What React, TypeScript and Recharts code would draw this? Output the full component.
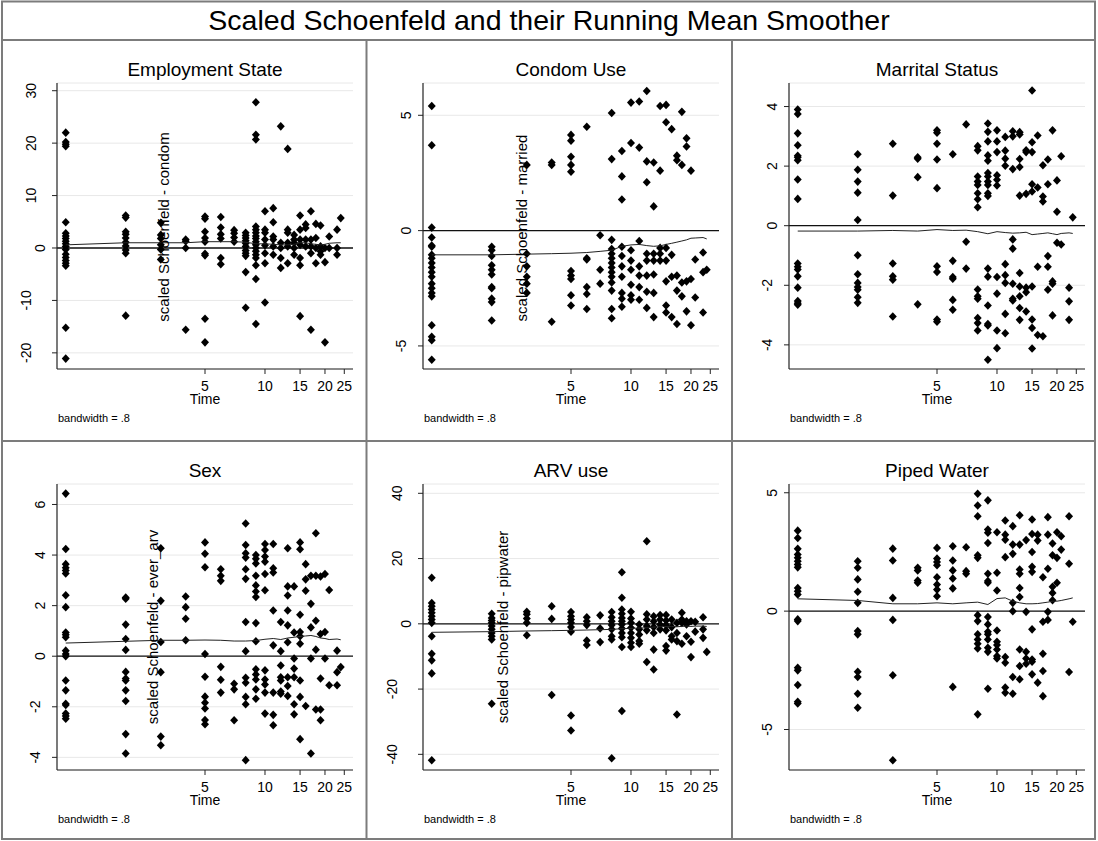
import React from 'react';
import { ScatterChart, Scatter, XAxis, YAxis, CartesianGrid, ReferenceLine } from 'recharts';

const FONT = '"Liberation Sans", Arial, Helvetica, sans-serif';

// event times (log-scaled x axis)
const times = [1, 2, 3, 4, 5, 6, 7, 8, 9, 10, 11, 12, 13, 14, 15, 16, 17, 18, 19, 20, 21, 23, 24];
const timeTicks = [5, 10, 15, 20, 25];
const timeDomain = [0.904, 27.65];

// ---- Employment State ----
const employmentVals = [
  [22, 20.2, 19.8, 19.4, 4.9, 2.8, 2.3, 1.8, 1.3, 0.8, 0.3, -0.3, -1.2, -1.8, -2.4, -2.9, -3.4, -15.2, -21.1],
  [6.2, 5.8, 3.1, 2.6, 1.9, 1.1, 0.4, -0.4, -1.0, -12.9],
  [4.8, 2.5, 1.8, 0.6, -0.3, -2.2],
  [1.6, 1.3, 0, -15.6],
  [6.0, 5.6, 3.1, 1.9, 1.2, -1.1, -1.4, -13.5, -18],
  [5.9, 3.9, 2.6, 1.8, -1.9, -3.1],
  [3.4, 2.8, 2.0, 1.2],
  [2.9, 2.4, 1.9, 1.4, 0.9, 0.3, -0.5, -1.0, -1.5, -4.6, -11.4],
  [27.8, 21.6, 20.7, 4.1, 3.5, 2.9, 2.3, 1.8, 1.2, 0.6, 0, -0.6, -1.3, -1.9, -3.3, -5.9, -14.5],
  [7.0, 3.5, 2.9, 1.6, 0.5, -1.0, -2.9, -10.4],
  [7.6, 4.9, 2.2, 1.6, 0.3, -1.3],
  [23.2, 1.0, 0, -1.9, -3.8],
  [18.9, 3.5, 2.9, 1.0, 0.3, -2.9],
  [2.5, 1.6, 1.0, 0, -1.3],
  [6.2, 3.5, 1.6, 0.6, -1.9, -3.3, -13.0],
  [4.5, 3.8, 1.6, 0.3],
  [7.0, 1.6, 0.3, -1.0, -15.6],
  [4.6, 1.9, 0, -2.9],
  [4.3, 0.3, -0.6, -1.3],
  [0, -2.7, -18],
  [2.2, 0],
  [3.5, 0, -1.3],
  [5.7],
];
const employmentSmooth = [0.6, 1.0, 1.0, 1.0, 1.2, 1.2, 1.2, 1.1, 0.8, 0.8, 0.7, 0.6, 0.6, 0.7, 1.0, 1.0, 0.8, 0.7, 0.6, 0.7, 0.9, 1.0, 1.0];

// ---- Condom Use ----
const condomVals = [
  [5.4, 3.7, 0.13, -0.3, -0.65, -0.7, -1.05, -1.2, -1.4, -1.6, -1.8, -2.0, -2.3, -2.5, -2.7, -2.85, -4.1, -4.6, -4.75, -5.6],
  [-0.7, -0.85, -1.1, -1.5, -1.7, -1.9, -2.45, -2.5, -2.95, -3.1, -3.9],
  [2.85, -1.0, -1.55, -2.0, -2.3, -2.7],
  [2.95, 2.85, -3.95],
  [4.15, 3.9, 3.2, 2.85, 2.55, -1.75, -1.95, -2.1, -2.8, -3.25],
  [4.5, -1.2, -1.25, -2.45, -2.75, -3.4],
  [-0.2, -1.7, -2.3],
  [5.1, 3.1, -0.4, -0.8, -1.0, -1.2, -1.4, -1.6, -1.8, -2.0, -2.25, -2.6, -3.4, -3.8],
  [3.45, 2.35, 1.35, -0.7, -1.1, -1.55, -2.0, -2.7, -2.95, -3.3],
  [5.55, 3.8, -0.85, -1.3, -1.7, -2.35, -2.8, -3.0],
  [5.6, 3.6, -0.45, -1.55, -1.95, -2.45, -3.0],
  [6.05, 3.0, 2.1, -1.0, -1.3, -1.95, -2.65, -3.35],
  [2.95, 1.05, -1.0, -1.3, -1.9, -2.7, -3.75],
  [5.4, 2.6, -0.75, -1.0, -1.3],
  [5.45, 4.7, -0.75, -1.3, -2.2, -3.25, -3.55],
  [4.4, -1.05, -2.0, -3.75],
  [3.25, 3.05, -1.95, -2.6, -4.05],
  [5.15, 2.85, -2.25, -2.85],
  [4.0, 3.65, -2.2, -3.5],
  [2.6, -2.1, -4.1],
  [-1.25, -2.9],
  [-0.95, -1.8, -3.55],
  [-1.7],
];
const condomSmooth = [-1.05, -1.05, -1.02, -1.0, -0.98, -0.95, -0.9, -0.85, -0.68, -0.62, -0.6, -0.65, -0.68, -0.66, -0.6, -0.55, -0.5, -0.45, -0.4, -0.33, -0.32, -0.3, -0.36];

// ---- Marrital Status ----
const maritalVals = [
  [3.9, 3.75, 3.1, 2.7, 2.35, 2.3, 2.2, 1.55, 0.9, -1.27, -1.38, -1.47, -1.7, -2.08, -2.53, -2.6, -2.65],
  [2.4, 1.88, 1.48, 1.11, 0.19, -0.99, -1.63, -1.92, -2.06, -2.15, -2.4, -2.59],
  [2.75, 1.01, -1.27, -1.7, -1.81, -3.05],
  [2.3, 2.25, 1.63, -2.64],
  [3.2, 3.12, 2.75, 2.22, 1.26, -1.36, -1.55, -3.15, -3.22],
  [2.4, -1.18, -1.72, -1.78, -2.49, -2.82],
  [3.4, -0.54, -1.44],
  [2.67, 2.53, 1.65, 1.48, 1.37, 1.09, 0.89, 0.62, -2.14, -2.37, -2.45, -3.1, -3.27, -3.52],
  [3.43, 3.15, 2.83, 2.36, 2.18, 1.77, 1.65, 1.48, 1.37, 1.09, 1.0, -1.44, -1.71, -2.68, -3.3, -3.35, -4.5],
  [3.2, 2.83, 2.47, 1.69, 1.54, 1.35, -1.72, -2.28, -3.52, -4.11],
  [2.98, 2.52, 2.25, 2.01, -1.29, -1.66, -1.92, -2.96, -3.61],
  [3.17, 3.0, 1.9, -0.46, -0.77, -1.95, -2.45, -2.51],
  [3.14, 3.06, 2.24, 1.97, 1.01, -1.59, -2.04, -2.37, -2.76, -3.16],
  [2.53, 2.47, 1.07, -2.08, -2.23, -2.88],
  [4.54, 2.8, 2.47, 1.39, 1.15, -2.04, -3.15, -3.43, -4.12],
  [3.03, 1.28, -1.38, -3.67],
  [2.03, 0.98, 0.81, -3.71],
  [2.22, 1.39, -1.02, -1.38, -2.15],
  [3.2, -1.87, -1.95, -3.01],
  [1.52, 0.47, -0.57],
  [2.33, -0.63],
  [-2.08, -2.54, -3.16],
  [0.28],
];
const maritalSmooth = [-0.18, -0.18, -0.16, -0.18, -0.13, -0.16, -0.15, -0.2, -0.27, -0.2, -0.23, -0.25, -0.24, -0.22, -0.3, -0.28, -0.26, -0.24, -0.27, -0.3, -0.26, -0.24, -0.26];

// ---- Sex ----
const sexVals = [
  [6.43, 4.24, 3.64, 3.5, 3.39, 3.27, 2.41, 1.94, 0.94, 0.85, 0.75, 0.22, 0.09, 0.0, -0.96, -1.35, -1.88, -1.93, -2.27, -2.36, -2.47],
  [2.32, 2.27, 1.25, 0.68, 0.25, -0.62, -0.88, -0.96, -1.35, -1.77, -3.08, -3.85],
  [4.27, 2.19, 0.56, -0.63, -3.18, -3.52],
  [2.36, 1.94, 1.48, 0.63],
  [4.5, 4.05, 3.52, 0.09, -0.81, -1.6, -1.84, -2.07, -2.52, -2.69],
  [3.44, 3.18, 2.98, -0.42, -0.93, -1.44],
  [-1.09, -1.31, -2.53],
  [5.25, 4.4, 4.07, 3.9, 3.44, 3.06, 1.35, 0.2, -0.85, -1.05, -1.61, -1.9, -4.11],
  [4.0, 3.85, 3.67, 3.18, 2.8, 2.56, 2.34, 1.31, 0.59, -0.52, -0.72, -0.92, -1.31, -1.68],
  [4.44, 4.2, 3.94, 3.74, 3.25, 2.61, -0.56, -0.92, -1.12, -1.44, -2.27],
  [4.44, 3.48, 3.31, 1.81, 0.43, -1.44, -2.32, -2.73],
  [1.35, 0.2, -0.37, -0.83, -0.96, -1.4, -1.48],
  [4.27, 2.76, 2.4, 1.81, 1.22, 0.55, -0.83, -1.18, -1.57],
  [2.76, 0.94, -0.09, -0.49, -0.83, -1.9, -2.3],
  [4.5, 4.23, 1.64, 0.96, 0.79, 0.49, -0.96, -1.61, -3.28],
  [3.64, 3.04, 2.59, -1.97],
  [3.18, 2.07, 1.14, -0.09, -3.85],
  [4.86, 3.18, 1.4, 0.26, -2.11],
  [3.15, 0.88, -0.88, -2.11, -2.53],
  [3.25, 0.96, -0.09],
  [2.62, -1.15],
  [0.22, -0.63, -1.15],
  [-0.43],
];
const sexSmooth = [0.52, 0.59, 0.63, 0.63, 0.64, 0.63, 0.6, 0.6, 0.62, 0.67, 0.7, 0.66, 0.72, 0.75, 0.78, 0.8, 0.82, 0.78, 0.72, 0.7, 0.66, 0.68, 0.65];

// ---- ARV use ----
const arvVals = [
  [14.1, 6.4, 5.4, 4.4, 3.4, 2.3, 1.3, 0.3, -3.8, -9.2, -11.2, -15.2, -41.8],
  [3.1, 1.8, 1.0, 0.3, -0.7, -1.7, -2.8, -3.8, -4.8, -24.5],
  [3.7, 2.9, 1.6, 0.3, -3.5],
  [5.4, 1.5, -21.8],
  [3.6, 2.3, 1.3, 0.3, -1.0, -2.4, -28.1, -32.7],
  [2.0, 0.8, -0.4, -5.1, -6.5],
  [2.6, -1.4, -5.6],
  [3.6, 2.0, 0.8, -0.4, -1.7, -3.8, -4.8, -41.2],
  [15.8, 8.0, 4.4, 3.1, 1.8, 0.8, -0.2, -1.4, -2.8, -4.1, -7.1, -26.7],
  [3.7, 1.6, 0.3, -1.2, -2.8, -4.3, -5.8, -7.1],
  [-0.2, -1.7, -3.3, -5.3, -6.1],
  [25.3, 2.9, 1.3, -0.7, -2.0, -11.7],
  [2.3, 0.8, -1.0, -2.8, -7.9, -14.0],
  [2.7, 1.3, -0.2, -1.7],
  [2.7, 1.0, -0.4, -2.0, -6.8, -8.2],
  [1.3, -1.0, -3.8, -4.8],
  [0.3, -2.8, -5.3, -27.8],
  [3.4, 1.3, 0.3, -6.1],
  [0.8, -0.2, -3.8],
  [0.8, -5.5, -10.2],
  [0.6, -2.4],
  [2.0, -1.7, -4.3],
  [-8.6],
];
const arvSmooth = [-2.6, -2.4, -2.2, -2.1, -2.0, -1.9, -1.8, -1.7, -1.5, -1.4, -1.3, -1.2, -1.0, -0.9, -0.8, -0.8, -0.9, -0.8, -0.7, -0.8, -0.7, -0.7, -0.8];

// ---- Piped Water ----
const waterVals = [
  [3.4, 3.09, 2.63, 2.39, 2.25, 2.11, 1.97, 1.85, 0.98, 0.84, 0.7, -0.35, -0.42, -2.39, -2.5, -3.12, -3.83, -3.9],
  [2.11, 1.83, 1.34, 0.82, 0.35, -0.84, -0.98, -2.56, -2.78, -3.49, -4.08],
  [2.64, 2.14, 0.56, -0.37, -2.71, -6.3],
  [1.83, 1.72, 1.29, 1.2],
  [2.67, 2.22, 2.08, 1.94, 1.43, 1.12, 0.91, 0.63],
  [2.74, 2.14, 1.72, 1.38, 0.96, -3.2],
  [2.7, 1.69, 1.58],
  [4.96, 4.46, 4.01, 2.36, 2.25, -0.17, -0.42, -0.98, -1.2, -1.38, -1.58, -4.36],
  [4.68, 3.45, 3.31, 2.88, 1.58, 1.27, 1.2, -0.25, -0.56, -0.87, -0.98, -1.2, -1.55, -1.72, -3.28],
  [3.33, 1.62, 0.87, -0.82, -1.29, -1.43, -1.62, -1.9, -2.0],
  [3.83, 3.23, 3.02, 2.28, -1.94, -2.18, -3.23, -3.45],
  [3.59, 2.81, 2.42, 0.35, 0.0, -2.78, -3.49],
  [4.05, 2.81, 1.76, 1.58, 0.98, 0.6, -1.62, -2.32, -2.88],
  [3.0, -0.03, -1.72, -2.0, -2.22],
  [3.87, 3.26, 2.5, 1.87, 1.66, -0.77, -2.04, -2.14, -2.67],
  [3.23, 2.98, -3.02],
  [1.43, -0.45, -1.8, -2.53, -3.59],
  [3.97, 3.23, 1.79, -0.03, -0.37],
  [2.86, 2.36, 1.03, 0.77, 0.46],
  [3.33, 2.25, 1.2],
  [3.16, 2.6],
  [4.01, 2.0, -2.57],
  [-0.45],
];
const waterSmooth = [0.52, 0.45, 0.31, 0.31, 0.35, 0.31, 0.35, 0.38, 0.28, 0.53, 0.56, 0.42, 0.35, 0.31, 0.31, 0.32, 0.35, 0.38, 0.42, 0.42, 0.45, 0.52, 0.56];

// tick labels for each panel's y axis
const employmentTicks = [-20, -10, 0, 10, 20, 30];
const condomTicks = [-5, 0, 5];
const maritalTicks = [-4, -2, 0, 2, 4];
const sexTicks = [-4, -2, 0, 2, 4, 6];
const arvTicks = [-40, -20, 0, 20, 40];
const waterTicks = [-5, 0, 5];

const toPoints = (vals: number[][]) =>
  vals.flatMap((col, i) => col.map((v) => ({ t: times[i], v })));
const toLine = (vals: number[]) => vals.map((v, i) => ({ t: times[i], v }));

// ---- layout ----
const W = 366;
const H = 400;
const PL = 55;
const PR = 15;
const PT = 44;
const PB = 330;
const PCX = PL + (W - PL - PR) / 2;

const Diamond = (p: any) => {
  const { cx, cy } = p;
  if (cx == null || cy == null) return <g />;
  return (
    <path
      d={`M${cx} ${cy - 4.3}L${cx + 4} ${cy}L${cx} ${cy + 4.3}L${cx - 4} ${cy}Z`}
      fill="#000"
    />
  );
};
const NoShape = () => <g />;

const YTick = (p: any) => {
  const s = String(p.payload.value);
  const fs = 14;
  const w = [...s].reduce((a, c) => a + (c === '-' ? 0.333 : 0.556) * fs, 0);
  const cx = PL - 9 - w * 1.07;
  const bx = cx + 5;
  return (
    <text
      x={bx}
      y={p.y}
      transform={`rotate(-90 ${bx} ${p.y})`}
      textAnchor="middle"
      fontSize={fs}
      fontFamily={FONT}
      fill="#000"
    >
      {s}
    </text>
  );
};

const XTick = (p: any) => (
  <text x={p.x} y={PB + 22} textAnchor="middle" fontSize={14} fontFamily={FONT} fill="#000">
    {p.payload.value}
  </text>
);

type PanelProps = {
  title: string;
  vals: number[][];
  smooth: number[];
  domain: number[];
  ticks: number[];
  left: number;
  top: number;
};

const Panel = ({ title, vals, smooth, domain, ticks, left, top }: PanelProps) => (
  <div style={{ position: 'absolute', left, top, width: W, height: H }}>
    <ScatterChart width={W} height={H} margin={{ top: PT, right: PR, bottom: 40, left: 0 }}>
      <CartesianGrid vertical={false} stroke="#e8e8e8" strokeWidth={1} />
      <XAxis
        dataKey="t"
        type="number"
        scale="log"
        domain={timeDomain}
        allowDataOverflow
        ticks={timeTicks}
        interval={0}
        height={30}
        tickSize={5}
        tick={XTick}
        axisLine={{ stroke: '#222', strokeWidth: 1.2 }}
        tickLine={{ stroke: '#222' }}
      />
      <YAxis
        dataKey="v"
        type="number"
        domain={domain}
        allowDataOverflow
        ticks={ticks}
        interval={0}
        width={PL}
        tickSize={5}
        tick={YTick}
        axisLine={{ stroke: '#222', strokeWidth: 1.2 }}
        tickLine={{ stroke: '#222' }}
      />
      <ReferenceLine y={0} stroke="#111" strokeWidth={1.3} />
      <Scatter data={toPoints(vals)} shape={Diamond} isAnimationActive={false} />
      <Scatter
        data={toLine(smooth)}
        line={{ stroke: '#222', strokeWidth: 1 }}
        lineType="joint"
        shape={NoShape}
        isAnimationActive={false}
      />
    </ScatterChart>
    <svg
      width={W}
      height={H}
      style={{ position: 'absolute', left: 0, top: 0, pointerEvents: 'none' }}
    >
      <text x={PCX} y={37} textAnchor="middle" fontSize={19} fontFamily={FONT} fill="#000">
        {title}
      </text>
      <text x={PCX} y={365} textAnchor="middle" fontSize={14} fontFamily={FONT} fill="#000">
        Time
      </text>
      <text x={56} y={383} fontSize={11} fontFamily={FONT} fill="#000">
        bandwidth = .8
      </text>
    </svg>
  </div>
);

const colLeft = [2, 367.7, 733.7];
const rowTop = [39, 439.5];

const yLabels = [
  { text: 'scaled Schoenfeld - condom', x: 168.5, y: 227 },
  { text: 'scaled Schoenfeld - married', x: 527, y: 228 },
  { text: 'scaled Schoenfeld - ever_arv', x: 157.5, y: 627 },
  { text: 'scaled Schoenfeld - pipwater', x: 508, y: 627 },
];

export default function App() {
  const border = '#7c7c7c';
  return (
    <div
      style={{
        position: 'absolute',
        left: 0,
        top: 0,
        width: 1098,
        height: 841,
        background: '#fff',
        fontFamily: FONT,
      }}
    >
      <svg width={1098} height={841} style={{ position: 'absolute', left: 0, top: 0 }}>
        <rect x={2} y={1.5} width={1093} height={837.5} fill="#fff" stroke={border} strokeWidth={2} />
        <line x1={2} y1={40} x2={1095} y2={40} stroke={border} strokeWidth={2} />
        <line x1={2} y1={441} x2={1095} y2={441} stroke={border} strokeWidth={2} />
        <line x1={366.5} y1={40} x2={366.5} y2={839} stroke={border} strokeWidth={2} />
        <line x1={732} y1={40} x2={732} y2={839} stroke={border} strokeWidth={2} />
        <text x={549} y={30} textAnchor="middle" fontSize={28.5} fontFamily={FONT} fill="#000">
          Scaled Schoenfeld and their Running Mean Smoother
        </text>
      </svg>
      <Panel title="Employment State" vals={employmentVals} smooth={employmentSmooth} domain={[-23.08, 31.47]} ticks={employmentTicks} left={colLeft[0]} top={rowTop[0]} />
      <Panel title="Condom Use" vals={condomVals} smooth={condomSmooth} domain={[-6.0, 6.4]} ticks={condomTicks} left={colLeft[1]} top={rowTop[0]} />
      <Panel title="Marrital Status" vals={maritalVals} smooth={maritalSmooth} domain={[-4.81, 4.79]} ticks={maritalTicks} left={colLeft[2]} top={rowTop[0]} />
      <Panel title="Sex" vals={sexVals} smooth={sexSmooth} domain={[-4.5, 6.81]} ticks={sexTicks} left={colLeft[0]} top={rowTop[1]} />
      <Panel title="ARV use" vals={arvVals} smooth={arvSmooth} domain={[-44.8, 42.85]} ticks={arvTicks} left={colLeft[1]} top={rowTop[1]} />
      <Panel title="Piped Water" vals={waterVals} smooth={waterSmooth} domain={[-6.71, 5.37]} ticks={waterTicks} left={colLeft[2]} top={rowTop[1]} />
      <svg width={1098} height={841} style={{ position: 'absolute', left: 0, top: 0, pointerEvents: 'none' }}>
        {yLabels.map((l) => (
          <text
            key={l.text}
            x={l.x}
            y={l.y}
            transform={`rotate(-90 ${l.x} ${l.y})`}
            textAnchor="middle"
            fontSize={15}
            fontFamily={FONT}
            fill="#000"
          >
            {l.text}
          </text>
        ))}
      </svg>
    </div>
  );
}
